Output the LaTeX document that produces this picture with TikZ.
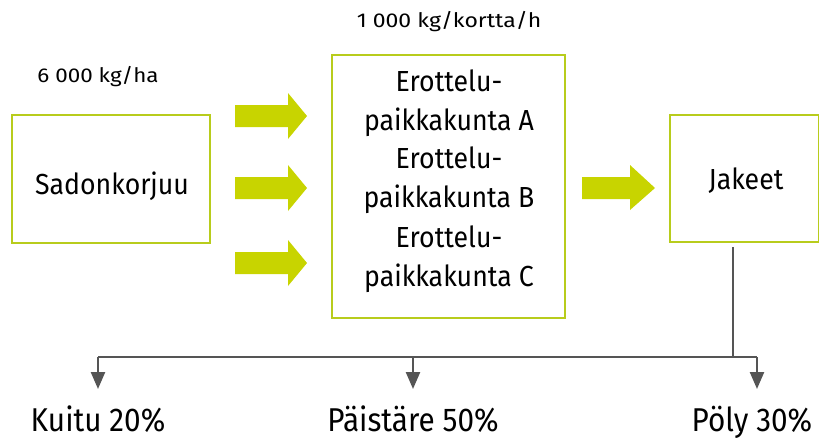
\documentclass[tikz,border=0pt]{standalone}
\usepackage{fontspec}
\setmainfont{Fira Sans}
\newfontfamily\boxfont{Fira Sans}[FakeStretch=0.92]
\newfontfamily\outfont{Fira Sans}[FakeStretch=0.9]
\usetikzlibrary{arrows.meta}
\definecolor{lime}{HTML}{C8D400}
\definecolor{boxline}{HTML}{B8CC1C}
\definecolor{conn}{HTML}{555555}
\begin{document}
\begin{tikzpicture}[x=1pt,y=-1pt,
  gbox/.style={draw=boxline,line width=2.2pt,fill=white,inner sep=0pt},
  bigarrow/.style={fill=lime,draw=none},
  conn/.style={draw=conn,line width=2.4pt},
  connarr/.style={conn,-{Triangle[length=17pt,width=14pt]}},
  lbl/.style={font=\fontsize{20}{24}\selectfont},
  boxtxt/.style={font=\boxfont\fontsize{29}{39}\selectfont,align=center},
  outtxt/.style={font=\outfont\fontsize{33}{38}\selectfont,inner sep=0pt,anchor=base}]
\useasboundingbox (0,0) rectangle (819,440);
% boxes
\node[gbox,minimum width=198pt,minimum height=128pt] (sad) at (111,179) {};
\node[boxtxt] (sadt) at (112,186) {Sadonkorjuu};
\node[gbox,minimum width=233pt,minimum height=263pt] (mid) at (448.5,186.5) {};
\node[boxtxt] (ta) at (449,103) {Erottelu-\\paikkakunta A};
\node[boxtxt] (tb) at (449,180) {Erottelu-\\paikkakunta B};
\node[boxtxt] (tc) at (449,259) {Erottelu-\\paikkakunta C};
\node[gbox,minimum width=149pt,minimum height=127pt] (jak) at (744.5,178.5) {};
\node[boxtxt] (jakt) at (746,181) {Jakeet};
% labels
\node[lbl] (l1) at (98,77) {\scalebox{1.12}[1]{6 000 kg/ha}};
\node[lbl] (l2) at (449,22) {\scalebox{1.15}[1]{1 000 kg/kortta/h}};
% big arrows
\foreach \yy in {116,188,263}{
  \fill[bigarrow] (235,\yy-11) -- (288,\yy-11) -- (288,\yy-23) -- (307,\yy) -- (288,\yy+23) -- (288,\yy+11) -- (235,\yy+11) -- cycle;
}
\fill[bigarrow] (582,177) -- (630,177) -- (630,165) -- (655,188) -- (630,210) -- (630,199) -- (582,199) -- cycle;
% connectors
\coordinate (j) at (733,357);
\coordinate (left) at (98,357);
\coordinate (midc) at (413,357);
\coordinate (right) at (757,357);
\node[outtxt] (o1) at (98,431) {Kuitu 20\%};
\node[outtxt] (o2) at (413,431) {Päistäre 50\%};
\node[outtxt] (o3) at (752,431) {Pöly 30\%};
\draw[conn] (jak.south -| j) ++(0,4) -- (j);
\draw[conn] (left) -- (right);
\draw[connarr] (left) -- (98,389);
\draw[connarr] (midc) -- (413,389);
\draw[connarr] (right) -- (757,389);
\end{tikzpicture}
\end{document}
